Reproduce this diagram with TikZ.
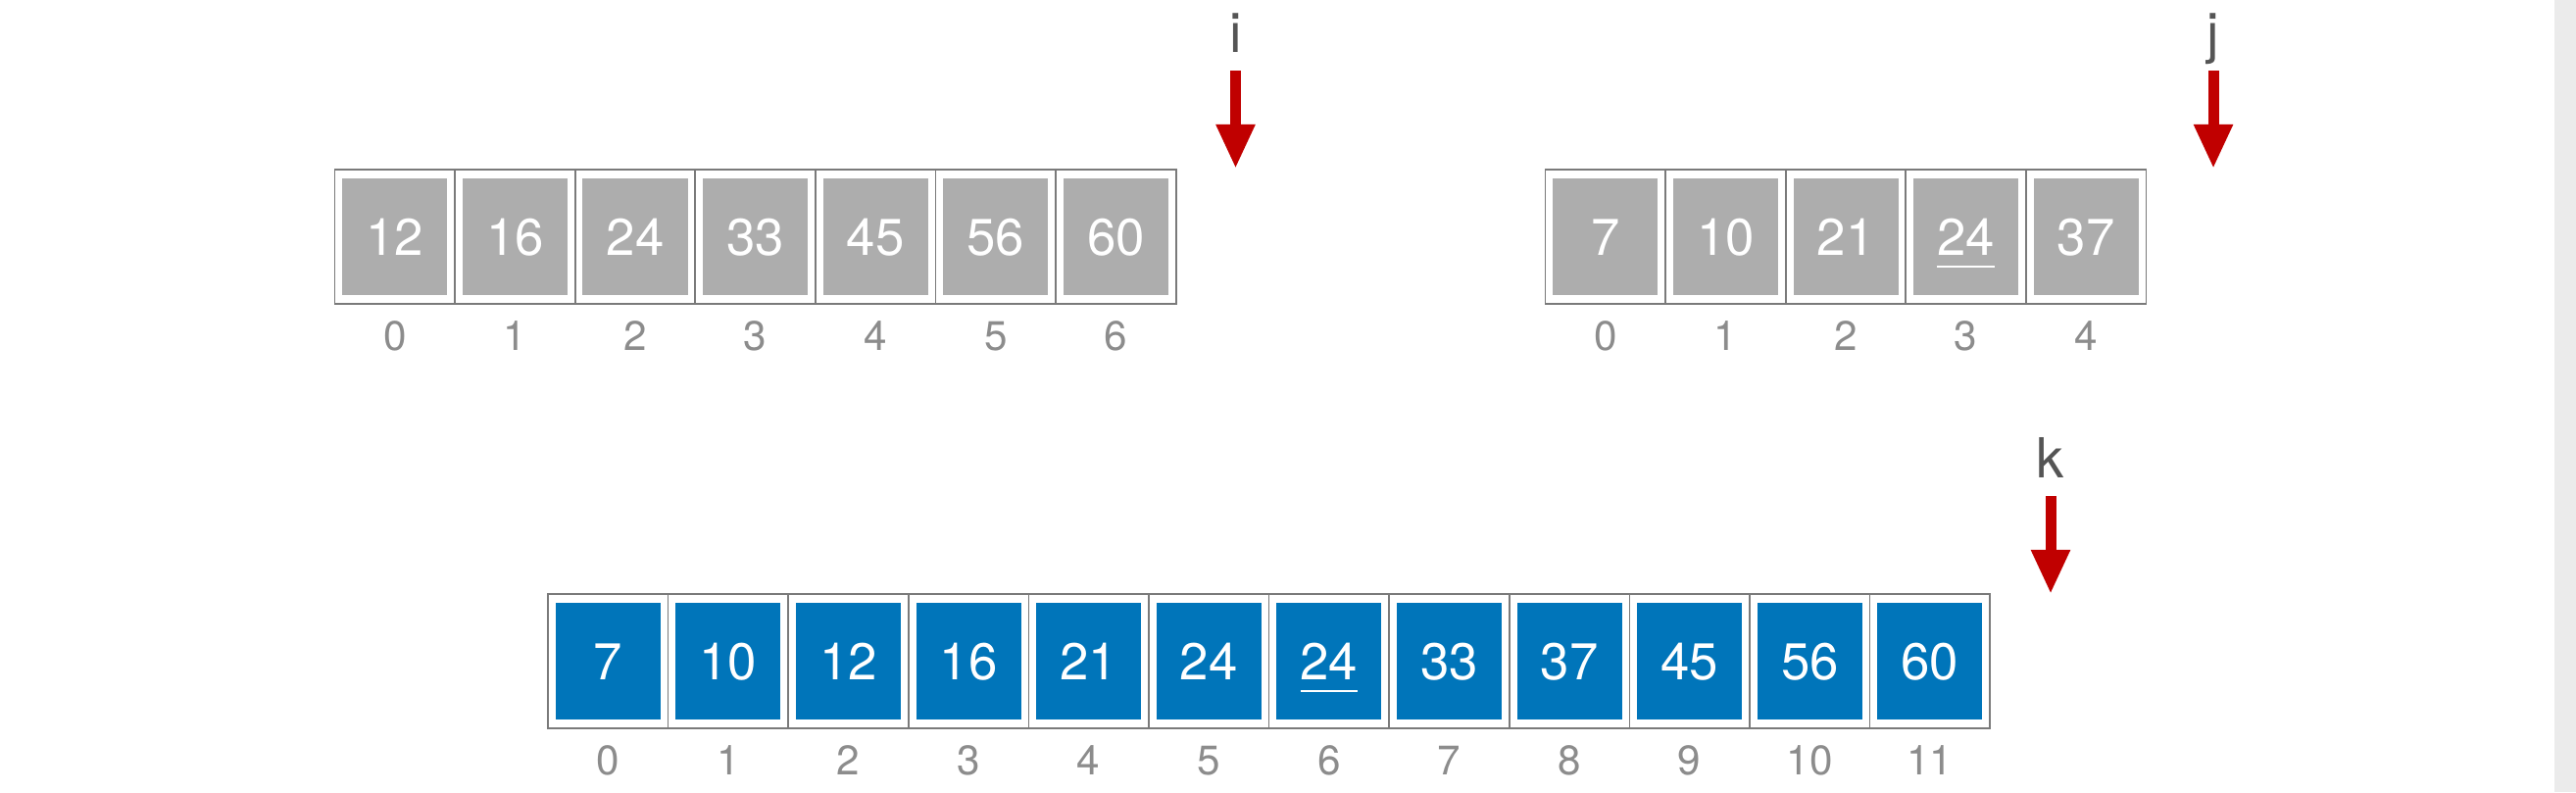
\documentclass[tikz,border=0pt]{standalone}
\usepackage{fontspec}
\setmainfont{TeX Gyre Heros}
\usetikzlibrary{arrows.meta}

\definecolor{cellline}{HTML}{7A7A7A}
\definecolor{oldgray}{HTML}{ADADAD}
\definecolor{newblue}{HTML}{0075BA}
\definecolor{idxgray}{HTML}{8C8C8C}
\definecolor{ptrgray}{HTML}{555555}
\definecolor{ptrred}{HTML}{C00000}
\definecolor{stripgray}{HTML}{EBEBEB}

% white bar under the second 24
\newcommand\dupmark[1]{\setbox0\hbox{#1}\rlap{\rule[-3.8pt]{\wd0}{0.8pt}}\box0}

\tikzset{
  cell/.style={draw=cellline, line width=0.5pt, fill=white, minimum width=1.226cm,
    minimum height=1.37cm, inner sep=0pt, outer sep=0pt},
  val/.style={text=white, font=\fontsize{15}{18}\selectfont, minimum width=1.07cm,
    minimum height=1.18cm, inner sep=0pt, text height=0.37cm, text depth=0pt},
  oldval/.style={val, fill=oldgray},
  newval/.style={val, fill=newblue},
  idx/.style={text=idxgray, font=\fontsize{12}{14}\selectfont, anchor=base, inner sep=0pt},
  ptrname/.style={text=ptrgray, font=\fontsize{16}{19}\selectfont, anchor=base, inner sep=0pt},
  ptr/.style={draw=ptrred, line width=0.11cm, -{Triangle[width=0.37cm,length=0.45cm]}}
}

\begin{document}
\begin{tikzpicture}[x=0.01cm, y=-0.01cm]
  \useasboundingbox (0,0) rectangle (2628,808);
  \fill[stripgray] (2606,0) rectangle (2628,808);

  % first run, pointer i
  \foreach \v [count=\n from 0] in {12,16,24,33,45,56,60} {
    \node[cell] (a\n) at ({402.8+\n*122.6},241.5) {};
    \node[oldval] (aV\n) at (a\n) {\v};
    \node[idx] (aI\n) at ({402.8+\n*122.6},357) {\n};
  }
  \node[ptrname] (iName) at (1260.5,53) {i};
  \coordinate (iTail) at (1260.5,72);
  \coordinate (iHead) at (1260.5,172);
  \draw[ptr] (iTail) -- (iHead);

  % second run, pointer j
  \foreach \v [count=\n from 0] in {7,10,21,\dupmark{24},37} {
    \node[cell] (b\n) at ({1637.8+\n*122.6},241.5) {};
    \node[oldval] (bV\n) at (b\n) {\v};
    \node[idx] (bI\n) at ({1637.8+\n*122.6},357) {\n};
  }
  \node[ptrname] (jName) at (2258,53) {j};
  \coordinate (jTail) at (2258,72);
  \coordinate (jHead) at (2258,172);
  \draw[ptr] (jTail) -- (jHead);

  % merged run, pointer k
  \foreach \v [count=\n from 0] in {7,10,12,16,21,24,\dupmark{24},33,37,45,56,60} {
    \node[cell] (c\n) at ({620.3+\n*122.6},674.5) {};
    \node[newval] (cV\n) at (c\n) {\v};
    \node[idx] (cI\n) at ({620.3+\n*122.6},790) {\n};
  }
  \node[ptrname] (kName) at (2092,487) {k};
  \coordinate (kTail) at (2092,506);
  \coordinate (kHead) at (2092,606);
  \draw[ptr] (kTail) -- (kHead);
\end{tikzpicture}
\end{document}
